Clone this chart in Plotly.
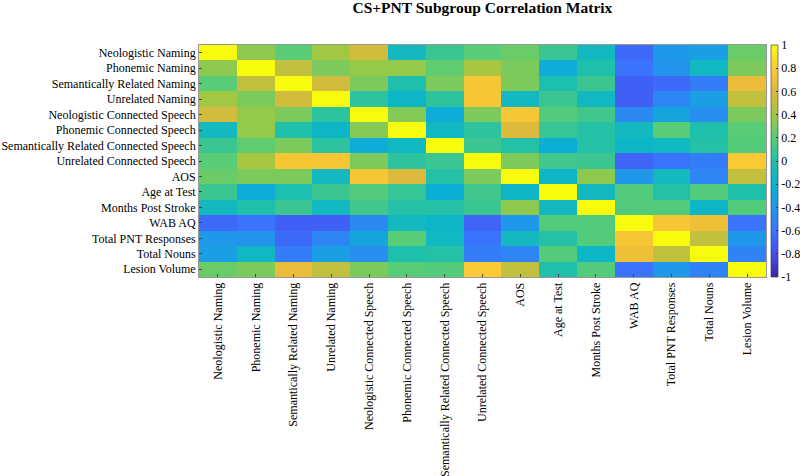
import plotly.graph_objects as go

labels = ["Neologistic Naming", "Phonemic Naming", "Semantically Related Naming",
          "Unrelated Naming", "Neologistic Connected Speech", "Phonemic Connected Speech",
          "Semantically Related Connected Speech", "Unrelated Connected Speech", "AOS",
          "Age at Test", "Months Post Stroke", "WAB AQ", "Total PNT Responses",
          "Total Nouns", "Lesion Volume"]

corr = [
    [1.00, 0.35, 0.20, 0.40, 0.55, -0.10, 0.10, 0.20, 0.25, 0.10, -0.10, -0.65, -0.40, -0.35, 0.25],
    [0.35, 1.00, 0.50, 0.30, 0.37, 0.37, 0.22, 0.42, 0.30, -0.25, 0.00, -0.60, -0.42, -0.12, 0.30],
    [0.20, 0.50, 1.00, 0.55, 0.30, 0.00, 0.30, 0.75, 0.30, -0.02, 0.10, -0.70, -0.65, -0.55, 0.65],
    [0.40, 0.30, 0.55, 1.00, 0.05, -0.15, 0.05, 0.75, -0.10, 0.10, -0.12, -0.70, -0.50, -0.35, 0.50],
    [0.55, 0.37, 0.30, 0.05, 1.00, 0.32, -0.25, 0.30, 0.75, 0.18, 0.12, -0.48, -0.30, -0.45, 0.30],
    [-0.10, 0.37, 0.00, -0.15, 0.32, 1.00, -0.12, 0.05, 0.58, 0.08, 0.02, -0.10, 0.20, 0.00, 0.20],
    [0.10, 0.22, 0.30, 0.05, -0.25, -0.12, 1.00, 0.10, 0.02, -0.22, 0.02, -0.15, -0.12, 0.02, 0.18],
    [0.20, 0.42, 0.75, 0.75, 0.30, 0.05, 0.10, 1.00, 0.30, 0.12, 0.10, -0.68, -0.60, -0.55, 0.78],
    [0.25, 0.30, 0.30, -0.10, 0.75, 0.58, 0.02, 0.30, 1.00, -0.15, 0.35, -0.40, -0.10, -0.50, 0.50],
    [0.10, -0.25, -0.02, 0.10, 0.18, 0.08, -0.22, 0.12, -0.15, 1.00, -0.10, 0.18, 0.02, 0.18, 0.00],
    [-0.10, 0.00, 0.10, -0.12, 0.12, 0.02, 0.02, 0.10, 0.35, -0.10, 1.00, 0.18, 0.18, -0.15, 0.18],
    [-0.65, -0.60, -0.70, -0.70, -0.48, -0.10, -0.15, -0.68, -0.40, 0.18, 0.18, 1.00, 0.75, 0.68, -0.60],
    [-0.40, -0.42, -0.65, -0.50, -0.30, 0.20, -0.12, -0.60, -0.10, 0.02, 0.18, 0.75, 1.00, 0.50, -0.40],
    [-0.35, -0.12, -0.55, -0.35, -0.45, 0.00, 0.02, -0.55, -0.50, 0.18, -0.15, 0.68, 0.50, 1.00, -0.52],
    [0.25, 0.30, 0.65, 0.50, 0.30, 0.20, 0.18, 0.78, 0.50, 0.00, 0.18, -0.60, -0.40, -0.52, 1.00],
]

cbar_ticks = [1, 0.8, 0.6, 0.4, 0.2, 0, -0.2, -0.4, -0.6, -0.8, -1]
cbar_text = ["1", "0.8", "0.6", "0.4", "0.2", "0", "-0.2", "-0.4", "-0.6", "-0.8", "-1"]

parula = [
    [0.0, "rgb(62,38,168)"],
    [0.1, "rgb(70,76,238)"],
    [0.2, "rgb(58,116,252)"],
    [0.3, "rgb(32,152,234)"],
    [0.4, "rgb(8,178,208)"],
    [0.5, "rgb(30,192,172)"],
    [0.6, "rgb(88,204,118)"],
    [0.7, "rgb(160,200,66)"],
    [0.8, "rgb(226,184,60)"],
    [0.9, "rgb(253,203,50)"],
    [1.0, "rgb(249,251,14)"],
]

font_family = "Liberation Serif, Times New Roman, serif"

fig = go.Figure(go.Heatmap(
    z=corr, x=labels, y=labels,
    zmin=-1, zmax=1, colorscale=parula,
    colorbar=dict(
        thickness=7, len=1, lenmode="fraction", y=0.5, yanchor="middle",
        x=1.008, xanchor="left", xpad=0, ypad=0,
        outlinewidth=0.6, outlinecolor="#333",
        tickvals=cbar_ticks, ticktext=cbar_text,
        ticks="inside", ticklen=2, tickcolor="#333",
        tickfont=dict(family=font_family, size=12, color="black"),
    ),
))

fig.update_layout(
    width=800, height=476,
    margin=dict(l=199, r=34, t=45, b=199, autoexpand=False),
    paper_bgcolor="white", plot_bgcolor="white",
    font=dict(family=font_family, size=12, color="black"),
    title=dict(text="<b>CS+PNT Subgroup Correlation Matrix</b>",
               x=0.603, xanchor="center", y=1 - 2.5 / 476, yanchor="top",
               font=dict(family=font_family, size=15.5, color="black")),
)
fig.update_xaxes(tickangle=-90, ticks="inside", ticklen=3, tickcolor="#444",
                 showline=True, linecolor="#999", linewidth=0.8, mirror=True,
                 side="bottom", automargin=False, tickfont=dict(size=12))
fig.update_yaxes(autorange="reversed", ticks="inside", ticklen=3, tickcolor="#444",
                 showline=True, linecolor="#999", linewidth=0.8, mirror=True,
                 automargin=False, tickfont=dict(size=12))

fig.write_html("out.html", config={"displayModeBar": False},
               post_script="document.body.style.margin='0';document.body.style.overflow='hidden';")
